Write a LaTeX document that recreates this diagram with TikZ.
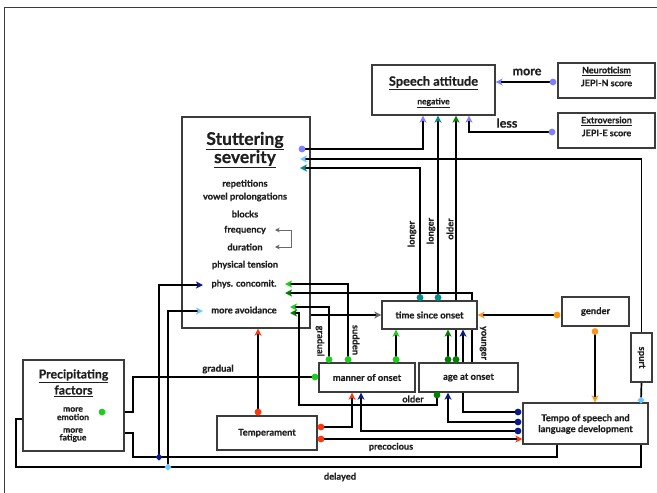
\documentclass[tikz,border=0pt]{standalone}
\usepackage{fontspec}
\setmainfont{Lato}[BoldFeatures={FakeBold=0.5}]
\usetikzlibrary{arrows.meta}
\definecolor{cPurple}{RGB}{128,128,255}
\definecolor{cSky}{RGB}{110,200,255}
\definecolor{cTeal}{RGB}{0,140,140}
\definecolor{cDkGreen}{RGB}{0,130,0}
\definecolor{cLtGreen}{RGB}{30,205,30}
\definecolor{cNavy}{RGB}{10,25,140}
\definecolor{cRed}{RGB}{255,55,10}
\definecolor{cOrange}{RGB}{255,150,20}
\definecolor{cGray}{RGB}{105,105,105}
\definecolor{cEdge}{RGB}{60,60,60}
\newcommand\setfs[1]{\fontsize{#1}{#1}\selectfont}
\pgfdeclarelayer{back}
\pgfdeclarelayer{wires}
\pgfdeclarelayer{front}
\pgfsetlayers{back,wires,main,front}
\tikzset{
  box/.style 2 args={draw=cEdge,line width=1.2pt,fill=white,inner sep=0pt,
    minimum width=#1,minimum height=#2},
  txt/.style={font=\bfseries\setfs{#1},inner sep=0pt,text=black!88},
  wire/.style={line width=1.7pt,black},
  tipc/.style={-{Stealth[length=7pt,width=7pt,inset=1.8pt,color=#1]}},
}
\begin{document}
\begin{tikzpicture}[x=1pt,y=-1pt]
\useasboundingbox (0,0) rectangle (657,493);
% outer frame
\draw[cEdge,line width=1.2pt] (4.5,500) -- (4.5,7.5) -- (670,7.5);

% ---------- boxes ----------
\begin{pgfonlayer}{back}
\node[box={128pt}{211pt}] (sev) at (246,222.5) {};
\end{pgfonlayer}
\node[box={123pt}{50pt}] (att) at (433.5,90) {};
\node[box={97pt}{35pt}] (neu) at (606.5,80.5) {};
\node[box={97pt}{35pt}] (ext) at (606.5,130.5) {};
\node[box={95pt}{28pt}] (time) at (429.5,315) {};
\node[box={67pt}{29pt}] (gender) at (595.5,311.5) {};
\node[box={96pt}{29pt}] (manner) at (367,377.5) {};
\node[box={99pt}{29pt}] (age) at (468.5,377.5) {};
\node[box={125pt}{41pt}] (tempo) at (585.5,423.5) {};
\node[box={21pt}{49pt}] (spurt) at (641.5,357.5) {};
\node[box={100pt}{34pt}] (temp) at (267,433) {};
\node[box={101pt}{91pt}] (prec) at (73.5,405.5) {};

% ---------- box texts ----------
\node[txt=12.8] (attT) at (433.5,83) {\underline{Speech attitude}};
\node[txt=8.5] (attN) at (433.5,103) {\underline{negative}};
\node[txt=9] (neuT) at (606.5,71) {\underline{Neuroticism}};
\node[txt=9] (neuS) at (606.5,83) {JEPI-N score};
\node[txt=9] (extT) at (606.5,121) {\underline{Extroversion}};
\node[txt=9] (extS) at (606.5,133) {JEPI-E score};

\node[txt=17.5] (sevA) at (245,141) {\underline{Stuttering}};
\node[txt=17.5] (sevB) at (245,159) {\underline{severity}};
\node[txt=9.3] (rep) at (245,184) {repetitions};
\node[txt=9.3] (vow) at (245,197) {vowel prolongations};
\node[txt=9.3] (blk) at (245,214) {blocks};
\node[txt=9.3] (freq) at (245,230) {frequency};
\node[txt=9.3] (dur) at (245,247) {duration};
\node[txt=9.3] (phy) at (245,265) {physical tension};
\node[txt=9.3] (pc) at (244,284) {phys. concomit.};
\node[txt=9.3] (av) at (244,310) {more avoidance};

\node[txt=9.4] at (time) {time since onset};
\node[txt=9.4] at (manner) {manner of onset};
\node[txt=9.4] at (age) {age at onset};
\node[txt=9.4] at (gender) {gender};
\node[txt=9.4] at (temp) {Temperament};
\node[txt=9.4] at (585.5,418.5) {Tempo of speech and};
\node[txt=9.4] at (585.5,429.5) {language development};
\node[txt=9.4,rotate=-90] at (spurt) {spurt};

\node[txt=12.3] at (73.5,376) {\underline{Precipitating}};
\node[txt=12.3] at (73.5,391) {\underline{factors}};
\node[txt=8.6] at (73,409.5) {more};
\node[txt=8.6] at (73,417) {emotion};
\node[txt=8.6] at (73,430.5) {more};
\node[txt=8.6] at (73,438) {fatigue};

% ---------- marker and end points ----------
\coordinate (dNeu) at (553,82);
\coordinate (dExt) at (552,132);
\coordinate (dSev) at (302,149);
\coordinate (dTimeA) at (420,297.5);
\coordinate (dTimeB) at (438,297.5);
\coordinate (dAgeA) at (448,359.5);
\coordinate (dAgeB) at (456,359.5);
\coordinate (dMan1) at (329,359.5);
\coordinate (dMan2) at (348,359.5);
\coordinate (dMan3) at (396,359.5);
\coordinate (dManL) at (315,377);
\coordinate (dEmo) at (102,412);
\coordinate (dAgeBot) at (437,395);
\coordinate (dTem1) at (518,412);
\coordinate (dTem2) at (518,422);
\coordinate (dTem3) at (518,431);
\coordinate (dTpR1) at (321,427);
\coordinate (dTpR2) at (321,439);
\coordinate (dTpTop) at (258,412);
\coordinate (dGenL) at (557,315);
\coordinate (dGenB) at (595,331.5);
\coordinate (dNavy) at (159,457);
\coordinate (dSky) at (168,467);
\coordinate (dSpurt) at (641,400);
\coordinate (pcA) at (285,284);
\coordinate (pcB) at (285,293);
\coordinate (avA) at (290,307);
\coordinate (avB) at (290,313);
\coordinate (pcL) at (203,285);
\coordinate (avL) at (203,311);
\coordinate (fatTip) at (110,433);
\coordinate (emoTip) at (43,419);
\coordinate (sevTipS) at (300,159);
\coordinate (sevTipT) at (300,168);
\coordinate (freqTip) at (275,230);
\coordinate (durTip) at (275,247);

% ---------- connectors ----------
\begin{pgfonlayer}{wires}
% to speech attitude
\draw[wire,tipc=cPurple] (dNeu) -- (att.east |- dNeu);
\draw[wire,tipc=cPurple] (dExt) -| (att.south -| 469,0);
\draw[wire,tipc=cPurple] (dSev) -| (att.south -| 423,0);
\draw[wire,tipc=cTeal] (dTimeB) -- (att.south -| dTimeB);
\draw[wire,tipc=cDkGreen] (dAgeB) -- (att.south -| dAgeB);
% to stuttering severity
\draw[wire] (dSpurt) -- (spurt.south);
\draw[wire,tipc=cSky] (spurt.north) |- (sevTipS);
\draw[wire,tipc=cTeal] (dTimeA) |- (sevTipT);
\draw[wire,tipc=cRed] (dTpTop) -- (sev.south -| dTpTop);
\draw[wire,tipc=cDkGreen] (age.north -| 472,0) |- (pcB);
\draw[wire,tipc=cLtGreen] (dMan2) |- (pcA);
\draw[wire,tipc=cLtGreen] (dMan1) |- (avA);
\draw[wire,tipc=cDkGreen] (dAgeBot) |- (299,405) |- (avB);
\draw[wire,tipc=cNavy] (dNavy) |- (pcL);
\draw[wire,tipc=cSky] (dSky) |- (avL);
% frequency / duration
\draw[line width=1pt,cGray,{Stealth[length=4.5pt,width=4.5pt,inset=1pt]}-{Stealth[length=4.5pt,width=4.5pt,inset=1pt]}]
  (freqTip) -- (291,230) -- (291,247) -- (durTip);
% to time since onset
\draw[wire,tipc=cGray] (sev.east |- time.west) -- (time.west);
\draw[wire,tipc=cLtGreen] (dMan3) -- (time.south -| dMan3);
\draw[wire,tipc=cDkGreen] (dAgeA) -- (time.south -| dAgeA);
\draw[wire,tipc=cNavy] (dTem1) -| (time.south -| 463,0);
\draw[wire,tipc=cOrange] (dGenL) -- (time.east |- dGenL);
% from tempo / temperament / gender
\draw[wire,tipc=cNavy] (dTem2) -| (age.south -| 448,0);
\draw[wire,tipc=cNavy] (dTem3) -| (manner.south -| 361,0);
\draw[wire,tipc=cRed] (dTpR1) -| (manner.south -| 352,0);
\draw[wire,tipc=cRed] (dTpR2) -- (tempo.west |- dTpR2);
\draw[wire,tipc=cOrange] (dGenB) -- (tempo.north -| dGenB);
% to precipitating factors
\draw[wire] (dManL) -| (133,412) -- (dEmo);
\draw[wire,tipc=cNavy] (tempo.south -| 557,0) |- (133,457) |- (fatTip);
\draw[wire,tipc=cSky] (tempo.south -| 641,0) |- (16,467) |- (emoTip);
\end{pgfonlayer}

% ---------- markers ----------
\begin{pgfonlayer}{front}
\foreach \p in {dNeu,dExt,dSev} \fill[cPurple] (\p) circle[radius=3.4pt];
\foreach \p in {dTimeA,dTimeB} \fill[cTeal] (\p) circle[radius=3.4pt];
\foreach \p in {dAgeA,dAgeB,dAgeBot} \fill[cDkGreen] (\p) circle[radius=3.4pt];
\foreach \p in {dMan1,dMan2,dMan3,dManL,dEmo} \fill[cLtGreen] (\p) circle[radius=3.4pt];
\foreach \p in {dTem1,dTem2,dTem3} \fill[cNavy] (\p) circle[radius=3.4pt];
\foreach \p in {dTpR1,dTpR2,dTpTop} \fill[cRed] (\p) circle[radius=3.4pt];
\foreach \p in {dGenL,dGenB} \fill[cOrange] (\p) circle[radius=3.4pt];
\fill[cNavy] (dNavy) +(0,-3.5) -- +(3.5,0) -- +(0,3.5) -- +(-3.5,0) -- cycle;
\fill[cSky] (dSky) +(0,-3.5) -- +(3.5,0) -- +(0,3.5) -- +(-3.5,0) -- cycle;
\fill[cSky] (dSpurt) +(0,-3.5) -- +(3.5,0) -- +(0,3.5) -- +(-3.5,0) -- cycle;
\end{pgfonlayer}

% ---------- connector labels ----------
\node[txt=12.5] at (527,72) {more};
\node[txt=12.5] at (507,123) {less};
\node[txt=9.3,rotate=90] at (412,234) {longer};
\node[txt=9.3,rotate=90] at (431,231) {longer};
\node[txt=9.3,rotate=90] at (450,229) {older};
\node[txt=9.3,rotate=-90] at (320,341) {gradual};
\node[txt=9.3,rotate=-90] at (356,340) {sudden};
\node[txt=9.3,rotate=-90] at (483,343) {younger};
\node[txt=9.5] at (218,369) {gradual};
\node[txt=9.3] at (413,399) {older};
\node[txt=9.2] at (391,447) {precocious};
\node[txt=9.3] at (340,477) {delayed};
\end{tikzpicture}
\end{document}
